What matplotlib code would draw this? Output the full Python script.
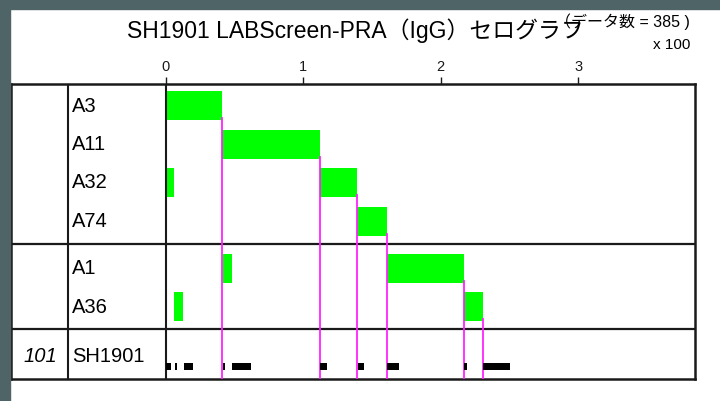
import matplotlib
matplotlib.use("Agg")
import matplotlib.pyplot as plt
from matplotlib.patches import Rectangle

# ---------------- data ----------------
title = "SH1901 LABScreen-PRA（IgG）セログラフ"
count_note = "（データ数 = 385 )"
scale_note = "x 100"
n_data = 385
group1 = ["A3", "A11", "A32", "A74"]
group2 = ["A1", "A36"]
bar_A3 = [(0, 41)]
bar_A11 = [(41, 112)]
bar_A32 = [(0, 6), (112, 139)]
bar_A74 = [(139, 161)]
bar_A1 = [(42, 48), (161, 217)]
bar_A36 = [(6, 13), (217, 231)]
main_ends = [41, 112, 139, 161, 217, 231]
patient_id = "101"
patient_name = "SH1901"
patient_marks = [(0, 4), (7, 8), (13.5, 20), (42, 43), (48.5, 62), (112.5, 117.5),
                 (140, 144.5), (161, 170), (217, 219), (231, 250.5)]
tick_values = [0, 100, 200, 300]
tick_labels = ["0", "1", "2", "3"]

bars = {"A3": bar_A3, "A11": bar_A11, "A32": bar_A32, "A74": bar_A74,
        "A1": bar_A1, "A36": bar_A36}

# ---------------- layout ----------------
W, H = 720, 401
fig = plt.figure(figsize=(W / 100, H / 100), dpi=100)
fig.patch.set_facecolor("white")
bg = "#4f6467"
fig.patches.append(Rectangle((0, 0), 10 / W, 1, transform=fig.transFigure, color=bg, zorder=0))
fig.patches.append(Rectangle((0, 1 - 9 / H), 1, 9 / H, transform=fig.transFigure, color=bg, zorder=0))

left_px, right_px, top_px, bot_px = 11, 695, 84, 379
px_per_unit = 1.375
zero_px = 165.5
xmin = (left_px - zero_px) / px_per_unit
xmax = n_data
ax = fig.add_axes([left_px / W, 1 - bot_px / H, (right_px - left_px) / W, (bot_px - top_px) / H])
ax.set_xlim(xmin, xmax)
ax.set_ylim(bot_px, top_px)
ax.set_facecolor("white")
frame_c = "#1a1a1a"
for s in ax.spines.values():
    s.set_linewidth(1.8)
    s.set_color(frame_c)
ax.yaxis.set_visible(False)
ax.xaxis.tick_top()
ax.set_xticks(tick_values)
ax.set_xticklabels(tick_labels, fontsize=10.5, family="Liberation Sans")
ax.tick_params(axis="x", direction="out", length=5, width=1, pad=2, colors=frame_c)

col_div = (68 - zero_px) / px_per_unit
label_x = (72 - zero_px) / px_per_unit
id_x = (57 - zero_px) / px_per_unit

# internal grid lines
ax.plot([col_div, col_div], [top_px, bot_px], color=frame_c, lw=1.5, zorder=3)
ax.plot([0, 0], [top_px, bot_px], color=frame_c, lw=1.5, zorder=3)
sep1, sep2 = 244, 329
for yy in (sep1, sep2):
    ax.plot([xmin, xmax], [yy, yy], color=frame_c, lw=1.6, zorder=3)

pitch = 38.5
bar_h = 29
centers = {}
for i, a in enumerate(group1):
    centers[a] = 105.5 + i * pitch
for i, a in enumerate(group2):
    centers[a] = 268.3 + i * pitch

green = "#00ff00"
magenta = "#ff22ff"
order = group1 + group2
for a in order:
    c = centers[a]
    for (s, e) in bars[a]:
        ax.add_patch(Rectangle((s, c - bar_h / 2), e - s, bar_h, facecolor=green,
                               edgecolor="none", zorder=2))
    ax.text(label_x, c + 0.5, a, fontsize=14.5, family="Liberation Sans",
            va="center", ha="left", zorder=4)

for a, e in zip(order, main_ends):
    c = centers[a]
    ax.plot([e, e], [c + bar_h / 2 - 2, bot_px], color=magenta, lw=1.3, zorder=3)

# patient row
prow = 356
ax.text(label_x, prow, patient_name, fontsize=14.5, family="Liberation Sans",
        va="center", ha="left", zorder=4)
ax.text(id_x, prow, patient_id, fontsize=14.5, family="Liberation Sans", style="italic",
        va="center", ha="right", zorder=4)
for (s, e) in patient_marks:
    ax.add_patch(Rectangle((s, 362.5), e - s, 7, facecolor="black", edgecolor="none", zorder=4))

# titles
fig.text(355 / W, 1 - 31 / H, title, fontsize=16.5, ha="center", va="center",
         family=["Liberation Sans", "Noto Sans CJK JP"])
fig.text(690 / W, 1 - 22 / H, count_note, fontsize=11.5, ha="right", va="center",
         family=["Liberation Sans", "Noto Sans CJK JP"])
fig.text(690 / W, 1 - 45 / H, scale_note, fontsize=11, ha="right", va="center",
         family=["Liberation Sans", "Noto Sans CJK JP"])

fig.savefig("out.png", dpi=100)
